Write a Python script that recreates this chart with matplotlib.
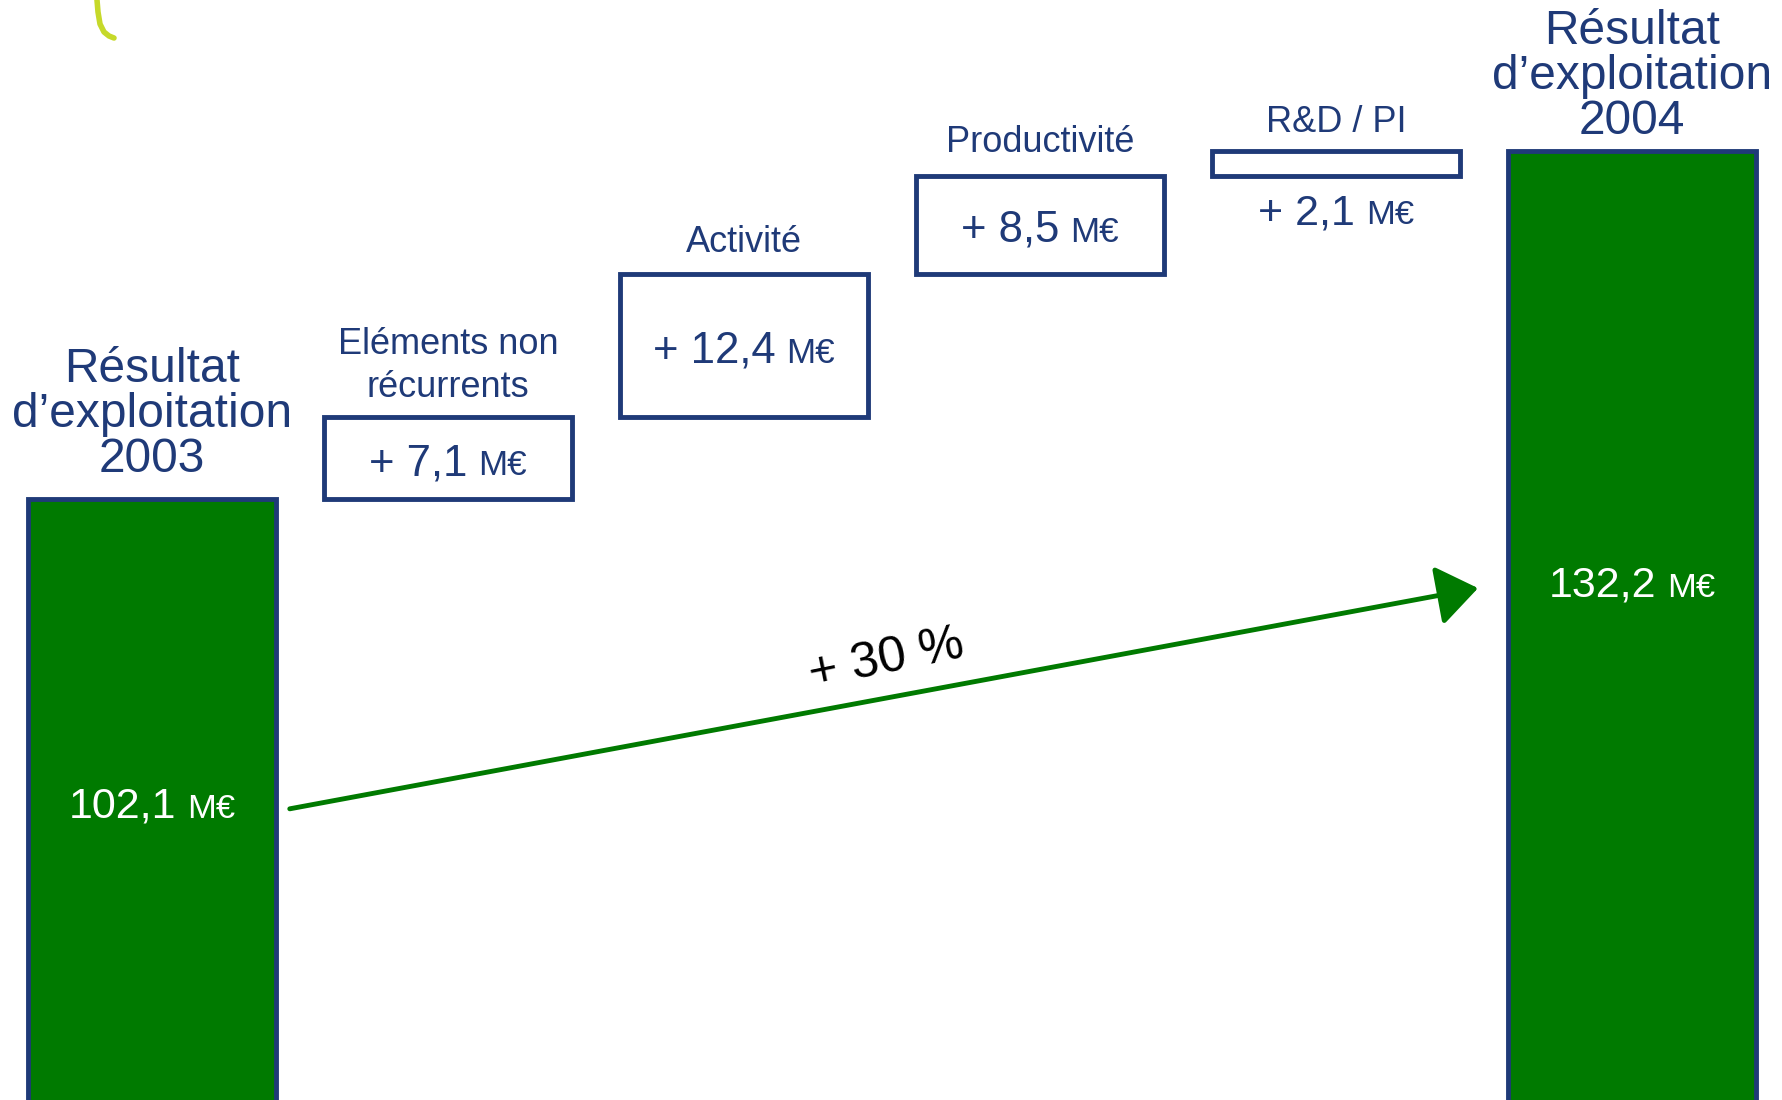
import matplotlib
matplotlib.use('Agg')
import matplotlib.pyplot as plt
from matplotlib.lines import Line2D
from matplotlib.offsetbox import TextArea, HPacker, AnnotationBbox

# data
categories = ["Résultat\nd’exploitation\n2003", "Eléments non\nrécurrents", "Activité",
              "Productivité", "R&D / PI", "Résultat\nd’exploitation\n2004"]
values = [102.1, 7.1, 12.4, 8.5, 2.1, 132.2]
is_total = [True, False, False, False, False, True]
value_labels = ["102,1", "+ 7,1", "+ 12,4", "+ 8,5", "+ 2,1", "132,2"]
unit = "M€"
growth_label = "+ 30 %"

GREEN = '#007a00'
NAVY = '#1f3a78'

plt.rcParams['font.family'] = ['Liberation Sans', 'DejaVu Sans']

fig = plt.figure(figsize=(17.82, 11), dpi=100)
ax = fig.add_axes([0, 0, 1, 1])
ax.set_xlim(-0.514, 5.507)
ax.set_ylim(50.1, 145.3)
ax.axis('off')

# waterfall bottoms
bottoms, heights = [], []
run = 0.0
for v, tot in zip(values, is_total):
    if tot:
        bottoms.append(0.0)
        run = v
    else:
        bottoms.append(run)
        run += v
    heights.append(v)

x = list(range(len(values)))
width = 0.84
colors = [GREEN if t else 'white' for t in is_total]
ax.bar(x, heights, bottom=bottoms, width=width, color=colors,
       edgecolor=NAVY, linewidth=3.5, zorder=2)

# category labels above each bar
label_offsets = [12, 9, 10, 11, 8, 5]
for i, cat in enumerate(categories):
    top = bottoms[i] + heights[i]
    big = is_total[i]
    ax.annotate(cat, (x[i], top), xytext=(0, label_offsets[i]),
                textcoords='offset points', ha='center', va='bottom',
                fontsize=34.5 if big else 26, color=NAVY,
                linespacing=1.0 if big else 1.28)


def value_box(xp, yp, num, color, size, dy=0):
    pk = HPacker(children=[TextArea(num, textprops=dict(color=color, fontsize=size)),
                           TextArea(unit, textprops=dict(color=color, fontsize=size * 0.8))],
                 align="baseline", pad=0, sep=8)
    ab = AnnotationBbox(pk, (xp, yp), xybox=(0, dy), boxcoords="offset points",
                        frameon=False, box_alignment=(0.5, 0.5), zorder=4)
    ax.add_artist(ab)


total_label_y = [75.5, 94.6]
ti = 0
for i, lab in enumerate(value_labels):
    if is_total[i]:
        value_box(x[i], total_label_y[ti], lab, 'white', 31)
        ti += 1
    elif heights[i] < 4:
        value_box(x[i], bottoms[i], lab, NAVY, 31, dy=-27)
    else:
        value_box(x[i], bottoms[i] + heights[i] / 2, lab, NAVY, 31.5, dy=-4)

# growth arrow between totals
x0, y0 = x[0] + width / 2 + 0.045, total_label_y[0] - 0.2
x1, y1 = x[-1] - width / 2 - 0.1, total_label_y[1] - 0.2
ax.annotate('', xy=(x1, y1), xytext=(x0, y0),
            arrowprops=dict(arrowstyle='-|>,head_length=0.6,head_width=0.44',
                            color=GREEN, lw=3.5, mutation_scale=42,
                            shrinkA=0, shrinkB=0), zorder=3)
ax.text(2.48, 88.2, growth_label, rotation=11.5, rotation_mode='anchor',
        ha='center', va='center', fontsize=36, color='black')

# logo fragment in the corner
px = [97, 98, 100, 104, 109, 114]
py = [0, 12, 24, 32, 36, 38]
fig.add_artist(Line2D([p / 1782 for p in px], [1 - p / 1100 for p in py],
                      color='#c6d92a', lw=4, solid_capstyle='round'))

fig.savefig('out.png', dpi=100)
